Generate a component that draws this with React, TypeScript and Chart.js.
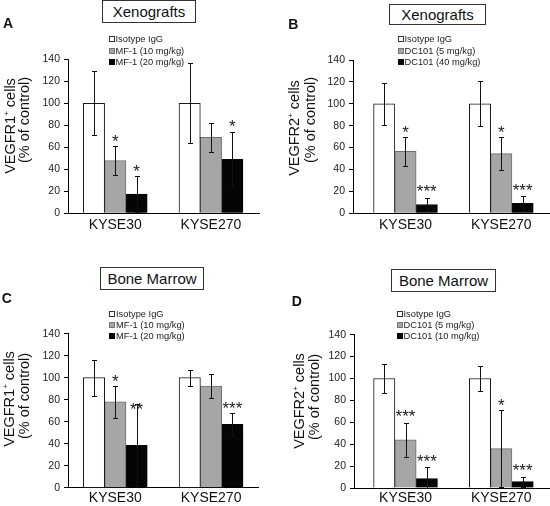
import React, { useEffect, useRef } from 'react';
import { Chart, registerables } from 'chart.js';

Chart.register(...registerables);

const FONT = "'Liberation Sans', Arial, Helvetica, sans-serif";

// ---------- shared ----------
const categories = ['KYSE30', 'KYSE270'];
const yMin = 0;
const yMax = 140;
const yStep = 20;

// ---------- Panel A: Xenografts, VEGFR1+ ----------
const aLabels = ['Isotype IgG', 'MF-1 (10 mg/kg)', 'MF-1 (20 mg/kg)'];
const aIsotype = [100, 100];
const aIsotypeErr = [29, 36.5];
const aLow = [48, 69];
const aLowErr = [13, 13];
const aHigh = [17.5, 49];
const aHighErr = [16.5, 25];
const aLowSig = ['*', ''];
const aLowSigY = [69, 0];
const aHighSig = ['*', '*'];
const aHighSigY = [42, 82.5];

// ---------- Panel B: Xenografts, VEGFR2+ ----------
const bLabels = ['Isotype IgG', 'DC101 (5 mg/kg)', 'DC101 (40 mg/kg)'];
const bIsotype = [100, 100];
const bIsotypeErr = [19, 20.5];
const bLow = [56.5, 54.5];
const bLowErr = [13.5, 15];
const bHigh = [8, 9];
const bHighErr = [6, 7];
const bLowSig = ['*', '*'];
const bLowSigY = [78, 78];
const bHighSig = ['***', '***'];
const bHighSigY = [24.2, 25];

// ---------- Panel C: Bone Marrow, VEGFR1+ ----------
const cLabels = ['Isotype IgG', 'MF-1 (10 mg/kg)', 'MF-1 (20 mg/kg)'];
const cIsotype = [100, 100];
const cIsotypeErr = [16.3, 7.3];
const cLow = [78, 92.4];
const cLowErr = [14.5, 11];
const cHigh = [38.5, 57.6];
const cHighErr = [37.3, 10.3];
const cLowSig = ['*', ''];
const cLowSigY = [100.5, 0];
const cHighSig = ['**', '***'];
const cHighSigY = [74.7, 75.9];

// ---------- Panel D: Bone Marrow, VEGFR2+ ----------
const dLabels = ['Isotype IgG', 'DC101 (5 mg/kg)', 'DC101 (10 mg/kg)'];
const dIsotype = [100, 100];
const dIsotypeErr = [13, 11];
const dLow = [44, 36];
const dLowErr = [15.6, 35];
const dHigh = [8.5, 5.8];
const dHighErr = [10.6, 4.6];
const dLowSig = ['***', '*'];
const dLowSigY = [69.5, 79.5];
const dHighSig = ['***', '***'];
const dHighSigY = [28.6, 19.8];

// ---------- styles ----------
const barFills = ['#ffffff', '#a6a6a6', '#050505'];
const barBorders = ['#1a1a1a', '#6e6e6e', '#050505'];
const legendBorders = ['#333333', '#777777', '#050505'];

type Series = { label: string; values: number[]; errors: number[]; sig: string[]; sigY: number[] };

function mkSeries(labels: string[], vals: number[][], errs: number[][], sigs: string[][], sigYs: number[][]): Series[] {
  return labels.map((label, i) => ({ label, values: vals[i], errors: errs[i], sig: sigs[i], sigY: sigYs[i] }));
}

const seriesA = mkSeries(aLabels, [aIsotype, aLow, aHigh], [aIsotypeErr, aLowErr, aHighErr], [['', ''], aLowSig, aHighSig], [[0, 0], aLowSigY, aHighSigY]);
const seriesB = mkSeries(bLabels, [bIsotype, bLow, bHigh], [bIsotypeErr, bLowErr, bHighErr], [['', ''], bLowSig, bHighSig], [[0, 0], bLowSigY, bHighSigY]);
const seriesC = mkSeries(cLabels, [cIsotype, cLow, cHigh], [cIsotypeErr, cLowErr, cHighErr], [['', ''], cLowSig, cHighSig], [[0, 0], cLowSigY, cHighSigY]);
const seriesD = mkSeries(dLabels, [dIsotype, dLow, dHigh], [dIsotypeErr, dLowErr, dHighErr], [['', ''], dLowSig, dHighSig], [[0, 0], dLowSigY, dHighSigY]);

type PanelCfg = {
  letter: string;
  title: string;
  yTitle: string;
  series: Series[];
  left: number;
  top: number;
  yAxisW: number;
  padRight: number;
  padTop: number;
  xAxisH: number;
  xMin: number;
  xMax: number;
  xPad: number;
  box: { left: number; top: number; width: number; height: number };
  letterPos: { left: number; top: number };
  legend: { left: number; rows: number[] };
  yTitlePos: [number, number, number, number];
};

const panels: PanelCfg[] = [
  {
    letter: 'A', title: 'Xenografts', yTitle: 'VEGFR1', series: seriesA,
    left: 0, top: 0, yAxisW: 68, padRight: 16, padTop: 59.3, xAxisH: 39.7, xMin: -0.494, xMax: 1.502, xPad: 3,
    box: { left: 102, top: 0, width: 94, height: 23 },
    letterPos: { left: 3, top: 16.2 },
    legend: { left: 108.5, rows: [39, 50.7, 62.3] },
    yTitlePos: [9.5, 126, 24.2, 120],
  },
  {
    letter: 'B', title: 'Xenografts', yTitle: 'VEGFR2', series: seriesB,
    left: 275, top: 0, yAxisW: 78, padRight: 1, padTop: 60, xAxisH: 39.7, xMin: -0.548, xMax: 1.498, xPad: 3,
    box: { left: 389, top: 4, width: 97, height: 21 },
    letterPos: { left: 288.3, top: 16.5 },
    legend: { left: 397.5, rows: [39, 50.7, 61.7] },
    yTitlePos: [294, 127.5, 310, 120],
  },
  {
    letter: 'C', title: 'Bone Marrow', yTitle: 'VEGFR1', series: seriesC,
    left: 0, top: 253, yAxisW: 68, padRight: 17, padTop: 80.7, xAxisH: 18.3, xMin: -0.494, xMax: 1.49, xPad: 2,
    box: { left: 100, top: 267, width: 104, height: 23 },
    letterPos: { left: 1.7, top: 290.5 },
    legend: { left: 109, rows: [313.7, 324.7, 336.3] },
    yTitlePos: [9, 399.3, 24, 396.3],
  },
  {
    letter: 'D', title: 'Bone Marrow', yTitle: 'VEGFR2', series: seriesD,
    left: 275, top: 253, yAxisW: 79, padRight: 1, padTop: 81.7, xAxisH: 18, xMin: -0.538, xMax: 1.498, xPad: 2,
    box: { left: 391, top: 269, width: 105, height: 23 },
    letterPos: { left: 291.7, top: 293.9 },
    legend: { left: 396.5, rows: [313.7, 324.7, 336.3] },
    yTitlePos: [299, 401, 314, 397],
  },
];

function makePlugin(series: Series[]) {
  return {
    id: 'errAndSig',
    afterDatasetsDraw(chart: any) {
      const ctx = chart.ctx as CanvasRenderingContext2D;
      const y = chart.scales.y;
      ctx.save();
      series.forEach((s, i) => {
        const meta = chart.getDatasetMeta(i);
        meta.data.forEach((bar: any, j: number) => {
          const v = s.values[j];
          const e = s.errors[j];
          const x = Math.round(bar.x) + 0.5;
          const yt = Math.round(y.getPixelForValue(v + e)) + 0.5;
          const yb = Math.round(y.getPixelForValue(Math.max(0, v - e))) + 0.5;
          ctx.strokeStyle = '#111111';
          ctx.lineWidth = 1;
          ctx.beginPath();
          ctx.moveTo(x, yt);
          ctx.lineTo(x, yb);
          ctx.moveTo(x - 2.5, yt);
          ctx.lineTo(x + 2.5, yt);
          ctx.moveTo(x - 2.5, yb);
          ctx.lineTo(x + 2.5, yb);
          ctx.stroke();
          const sig = s.sig[j];
          if (sig) {
            const fs = 17;
            ctx.fillStyle = '#1a1a1a';
            ctx.font = `${fs}px ${FONT}`;
            ctx.textAlign = 'center';
            ctx.textBaseline = 'alphabetic';
            ctx.fillText(sig, bar.x, y.getPixelForValue(s.sigY[j]) + 0.58 * fs);
          }
        });
      });
      ctx.restore();
    },
  };
}

function ChartPanel({ p }: { p: PanelCfg }) {
  const ref = useRef<HTMLCanvasElement>(null);
  useEffect(() => {
    const chart = new Chart(ref.current as HTMLCanvasElement, {
      type: 'bar',
      data: {
        datasets: p.series.map((s, i) => ({
          label: s.label,
          data: s.values.map((v, j) => ({ x: j, y: v })),
          backgroundColor: barFills[i],
          borderColor: barBorders[i],
          borderWidth: 1,
          borderSkipped: 'bottom',
          barThickness: 21.3,
        })) as any,
      },
      options: {
        animation: false,
        responsive: false,
        maintainAspectRatio: false,
        devicePixelRatio: 1,
        events: [],
        layout: { padding: { left: 0, top: p.padTop, right: p.padRight, bottom: 0 } },
        plugins: { legend: { display: false }, tooltip: { enabled: false }, title: { display: false } },
        scales: {
          x: {
            type: 'linear',
            min: p.xMin,
            max: p.xMax,
            offset: false,
            afterBuildTicks: (axis: any) => {
              axis.ticks = categories.map((_, i) => ({ value: i }));
            },
            afterFit: (axis: any) => {
              axis.height = p.xAxisH;
            },
            ticks: {
              callback: (v: any) => categories[Math.round(Number(v))] ?? '',
              font: { family: FONT, size: 14 },
              color: '#111111',
              padding: p.xPad,
              maxRotation: 0,
              autoSkip: false,
            },
            grid: { display: false, drawTicks: false, offset: false },
            border: { display: true, color: '#000000', width: 1 },
          },
          y: {
            min: yMin,
            max: yMax,
            afterFit: (axis: any) => {
              axis.width = p.yAxisW;
            },
            ticks: {
              stepSize: yStep,
              font: { family: FONT, size: 10.5 },
              color: '#222222',
              padding: 4,
            },
            grid: { display: true, drawOnChartArea: false, drawTicks: true, tickLength: 4, color: '#000000', lineWidth: 1 },
            border: { display: true, color: '#000000', width: 1 },
          },
        },
      } as any,
      plugins: [makePlugin(p.series)],
    });
    return () => chart.destroy();
  }, []);
  return (
    <canvas
      ref={ref}
      width={275}
      height={253}
      style={{ position: 'absolute', left: p.left, top: p.top, width: 275, height: 253 }}
    />
  );
}

function Overlay({ p }: { p: PanelCfg }) {
  const [x1, y1, x2, y2] = p.yTitlePos;
  const rot: React.CSSProperties = {
    position: 'absolute',
    transform: 'translate(-50%, -50%) rotate(-90deg)',
    whiteSpace: 'nowrap',
    fontSize: 14.5,
    lineHeight: '16px',
    color: '#111',
  };
  return (
    <>
      <div
        style={{
          position: 'absolute',
          left: p.box.left,
          top: p.box.top,
          width: p.box.width,
          height: p.box.height,
          boxSizing: 'border-box',
          border: '1px solid #333',
          background: '#fff',
          display: 'flex',
          alignItems: 'center',
          justifyContent: 'center',
          fontSize: 15,
          color: '#111',
        }}
      >
        {p.title}
      </div>
      <div
        style={{
          position: 'absolute',
          left: p.letterPos.left,
          top: p.letterPos.top,
          fontSize: 14,
          lineHeight: 1,
          fontWeight: 'bold',
          color: '#111',
        }}
      >
        {p.letter}
      </div>
      {p.series.map((s, i) => (
        <div
          key={i}
          style={{
            position: 'absolute',
            left: p.legend.left,
            top: p.legend.rows[i] - 5.5,
            height: 11,
            display: 'flex',
            alignItems: 'center',
            whiteSpace: 'nowrap',
            fontSize: 9.3,
            color: '#222',
          }}
        >
          <span
            style={{
              display: 'inline-block',
              width: 6,
              height: 6,
              boxSizing: 'border-box',
              border: `1px solid ${legendBorders[i]}`,
              background: barFills[i],
              marginRight: 1,
            }}
          />
          <span>{s.label}</span>
        </div>
      ))}
      <div style={{ ...rot, left: x1, top: y1 }}>
        {p.yTitle}
        <sup style={{ fontSize: 8, verticalAlign: 'top', lineHeight: '10px' }}>+</sup> cells
      </div>
      <div style={{ ...rot, left: x2, top: y2 }}>(% of control)</div>
    </>
  );
}

export default function App() {
  return (
    <div
      style={{
        position: 'absolute',
        left: 0,
        top: 0,
        width: 550,
        height: 506,
        background: '#ffffff',
        overflow: 'hidden',
        fontFamily: FONT,
      }}
    >
      {panels.map((p) => (
        <ChartPanel key={'c' + p.letter} p={p} />
      ))}
      {panels.map((p) => (
        <Overlay key={'o' + p.letter} p={p} />
      ))}
    </div>
  );
}
